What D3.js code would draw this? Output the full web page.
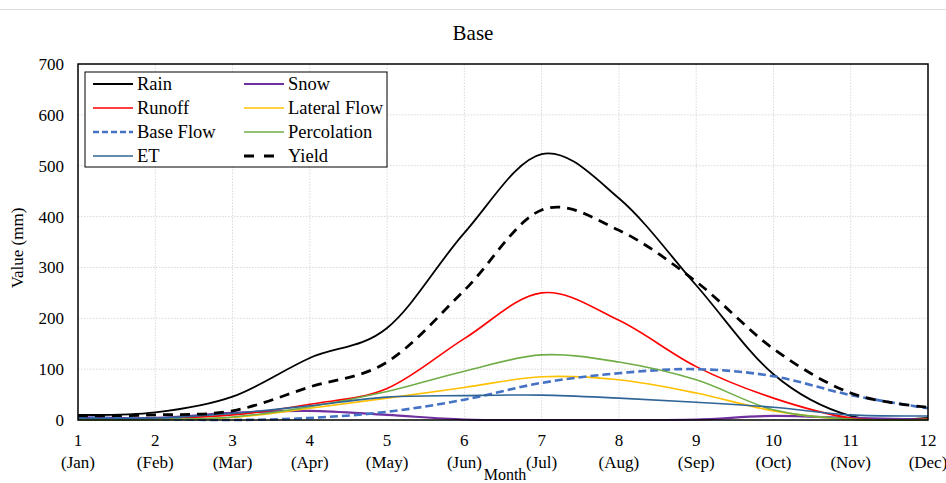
<!DOCTYPE html>
<html>
<head>
<meta charset="utf-8">
<script src="https://cdn.jsdelivr.net/npm/d3@7"></script>
<style>
  html, body { margin: 0; padding: 0; background: #fff; }
  svg { display: block; font-family: "Liberation Serif", "Times New Roman", serif; }
</style>
</head>
<body>
<svg id="chart" width="946" height="483"></svg>
<script>
// Monthly water balance components (mm)
const months = [1, 2, 3, 4, 5, 6, 7, 8, 9, 10, 11, 12];
const monthNames = ["Jan", "Feb", "Mar", "Apr", "May", "Jun", "Jul", "Aug", "Sep", "Oct", "Nov", "Dec"];
const yTicks = [0, 100, 200, 300, 400, 500, 600, 700];

const rain        = [10, 15, 46, 122, 181, 368, 523, 436, 265, 90, 8, 4];
const snow        = [5, 4, 14, 18, 10, 1, 0, 0, 1, 8, 4, 1];
const runoff      = [2, 3, 10, 31, 62, 160, 250, 196, 105, 43, 4, 2];
const lateralFlow = [0, 1, 5, 23, 43, 64, 85, 79, 53, 18, 1, 1];
const baseFlow    = [5, 2, 0, 4, 16, 40, 73, 92, 100, 86, 49, 23];
const percolation = [0, 1, 6, 26, 56, 96, 128, 114, 79, 20, 2, 1];
const et          = [3, 4, 13, 28, 45, 48, 49, 43, 35, 25, 10, 8];
const yieldVals   = [8, 10, 18, 65, 114, 255, 413, 373, 272, 140, 53, 25];

const series = [
  { name: "Rain",         values: rain,        color: "#000000", width: 1.8, dash: null },
  { name: "Snow",         values: snow,        color: "#7030A0", width: 2.2, dash: null },
  { name: "Runoff",       values: runoff,      color: "#FF0000", width: 1.6, dash: null },
  { name: "Lateral Flow", values: lateralFlow, color: "#FFC000", width: 1.6, dash: null },
  { name: "Base Flow",    values: baseFlow,    color: "#4472C4", width: 2.6, dash: "8,4" },
  { name: "Percolation",  values: percolation, color: "#70AD47", width: 1.6, dash: null },
  { name: "ET",           values: et,          color: "#2E6596", width: 1.6, dash: null },
  { name: "Yield",        values: yieldVals,   color: "#000000", width: 2.8, dash: "10,7" }
];

const svg = d3.select("#chart");
const W = 946, H = 483;
const margin = { left: 78, right: 18, top: 64, bottom: 63 };
const plotW = W - margin.left - margin.right;
const plotH = H - margin.top - margin.bottom;
const fs = 17;

// thin rule along the top of the page
svg.append("line")
  .attr("x1", 0).attr("x2", W).attr("y1", 9.5).attr("y2", 9.5)
  .attr("stroke", "#dcdcdc").attr("stroke-width", 1);

const x = d3.scaleLinear().domain([1, 12]).range([margin.left, margin.left + plotW]);
const y = d3.scaleLinear().domain([0, 700]).range([margin.top + plotH, margin.top]);

// gridlines
const grid = svg.append("g");
grid.selectAll("line.v").data(months.slice(1, -1)).join("line")
  .attr("x1", d => x(d)).attr("x2", d => x(d))
  .attr("y1", y(0)).attr("y2", y(700))
  .attr("stroke", "#d9d9d9").attr("stroke-width", 1).attr("stroke-dasharray", "1.5,1.5");
grid.selectAll("line.h").data(yTicks.slice(1, -1)).join("line")
  .attr("x1", x(1)).attr("x2", x(12))
  .attr("y1", d => y(d)).attr("y2", d => y(d))
  .attr("stroke", "#d9d9d9").attr("stroke-width", 1).attr("stroke-dasharray", "1.5,1.5");

// series lines (smoothed)
const line = d3.line()
  .x((d, i) => x(months[i]))
  .y(d => y(d))
  .curve(d3.curveCardinal.tension(0));

svg.append("g").selectAll("path").data(series).join("path")
  .attr("d", s => line(s.values))
  .attr("fill", "none")
  .attr("stroke", s => s.color)
  .attr("stroke-width", s => s.width)
  .attr("stroke-dasharray", s => s.dash);

// plot frame
svg.append("rect")
  .attr("x", x(1)).attr("y", y(700))
  .attr("width", x(12) - x(1)).attr("height", y(0) - y(700))
  .attr("fill", "none").attr("stroke", "#000").attr("stroke-width", 1.5);

// y axis
const yAxis = d3.axisLeft(y).tickValues(yTicks).tickSize(0).tickPadding(14);
const gy = svg.append("g").attr("transform", `translate(${x(1)},0)`).call(yAxis);
gy.select(".domain").remove();
gy.selectAll("text").attr("font-size", fs).attr("font-family", "Liberation Serif, serif").attr("fill", "#000");

// x axis with two-line month labels
const xAxis = d3.axisBottom(x).tickValues(months).tickSize(0).tickFormat("");
const gx = svg.append("g").attr("transform", `translate(0,${y(0)})`).call(xAxis);
gx.select(".domain").remove();
const xl = svg.append("g").selectAll("text").data(months).join("text")
  .attr("x", d => x(d)).attr("text-anchor", "middle")
  .attr("font-size", fs).attr("fill", "#000");
xl.append("tspan").attr("x", d => x(d)).attr("y", y(0) + 26).text(d => d);
xl.append("tspan").attr("x", d => x(d)).attr("y", y(0) + 48).text((d, i) => `(${monthNames[i]})`);

// titles
svg.append("text").attr("x", 473).attr("y", 40).attr("text-anchor", "middle")
  .attr("font-size", 21).text("Base");
svg.append("text").attr("x", 505).attr("y", 480).attr("text-anchor", "middle")
  .attr("font-size", 16).text("Month");
svg.append("text").attr("transform", `translate(23,${(y(0) + y(700)) / 2 + 6}) rotate(-90)`)
  .attr("text-anchor", "middle").attr("font-size", fs).text("Value (mm)");

// legend
const lg = svg.append("g").attr("transform", "translate(85,72)");
lg.append("rect").attr("width", 302).attr("height", 95)
  .attr("fill", "#fff").attr("stroke", "#000").attr("stroke-width", 1);
const order = ["Rain", "Snow", "Runoff", "Lateral Flow", "Base Flow", "Percolation", "ET", "Yield"];
const items = lg.selectAll("g.item").data(order.map(n => series.find(s => s.name === n))).join("g")
  .attr("transform", (d, i) => `translate(${i % 2 === 0 ? 8 : 159},${12 + Math.floor(i / 2) * 24})`);
items.append("line")
  .attr("x1", 0).attr("x2", d => d.name === "Yield" ? 36 : 40).attr("y1", 0).attr("y2", 0)
  .attr("stroke", d => d.color)
  .attr("stroke-width", d => d.width)
  .attr("stroke-dasharray", d => d.name === "Yield" ? "10,10" : (d.dash ? "6,3" : null));
items.append("text").attr("x", 44).attr("y", 6).attr("font-size", 18.5).text(d => d.name);
</script>
</body>
</html>
